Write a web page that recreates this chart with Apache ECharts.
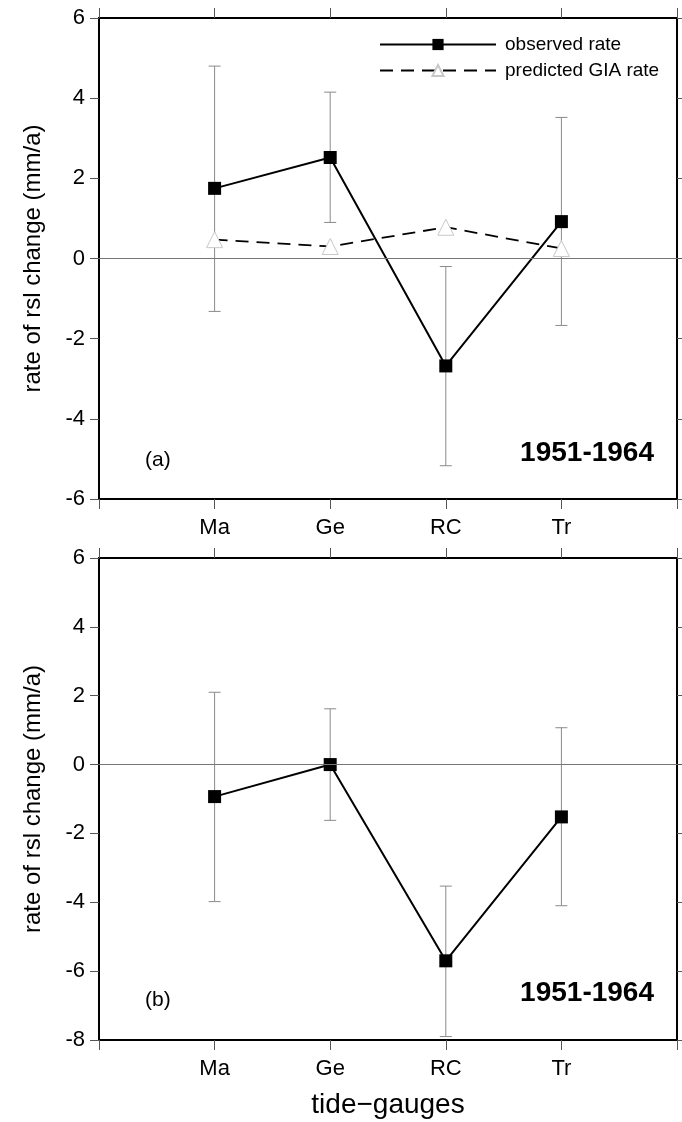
<!DOCTYPE html>
<html>
<head>
<meta charset="utf-8">
<script src="https://cdn.jsdelivr.net/npm/echarts@6/dist/echarts.min.js"></script>
<style>
  html, body { margin: 0; padding: 0; background: #fff; }
  #chart { width: 682px; height: 1122px; }
</style>
</head>
<body>
<div id="chart"></div>
<script>
// tide gauges, placed at x = 1..4 on a 0..5 axis
const categories = ['Ma', 'Ge', 'RC', 'Tr'];
const catPos = [1, 2, 3, 4];

// panel (a)
const obsA = [1.75, 2.52, -2.68, 0.92];
const obsALow = [-1.32, 0.9, -5.17, -1.67];
const obsAHigh = [4.8, 4.15, -0.2, 3.52];
const giaA = [0.47, 0.3, 0.78, 0.25];

// panel (b)
const obsB = [-0.93, 0.0, -5.7, -1.52];
const obsBLow = [-3.98, -1.62, -7.9, -4.1];
const obsBHigh = [2.1, 1.62, -3.53, 1.07];

const yTicksA = { min: -6, max: 6, interval: 2 };
const yTicksB = { min: -8, max: 6, interval: 2 };

const FONT = 'Liberation Sans, Arial, Helvetica, sans-serif';

const chart = echarts.init(document.getElementById('chart'));

function pairs(ys) { return catPos.map((x, i) => [x, ys[i]]); }
function errData(lo, hi) { return catPos.map((x, i) => [x, lo[i], hi[i]]); }

function errorBars(api) {
  const x = api.value(0);
  const lo = api.coord([x, api.value(1)]);
  const hi = api.coord([x, api.value(2)]);
  const w = 6;
  const style = { stroke: '#8a8a8a', lineWidth: 1, fill: null };
  return {
    type: 'group',
    children: [
      { type: 'line', shape: { x1: lo[0], y1: lo[1], x2: hi[0], y2: hi[1] }, style },
      { type: 'line', shape: { x1: lo[0] - w, y1: lo[1], x2: lo[0] + w, y2: lo[1] }, style },
      { type: 'line', shape: { x1: hi[0] - w, y1: hi[1], x2: hi[0] + w, y2: hi[1] }, style }
    ]
  };
}

function xAxisPair(gridIndex, withName) {
  const base = {
    gridIndex, type: 'value', min: 0, max: 5, interval: 1,
    splitLine: { show: false },
    axisLine: { onZero: false, lineStyle: { color: '#000', width: 2 } },
    axisTick: { length: 10, lineStyle: { color: '#555', width: 1 } }
  };
  return [
    Object.assign({}, base, {
      position: 'bottom',
      axisLabel: {
        fontFamily: FONT, fontSize: 22, color: '#000', margin: 18,
        formatter: v => { const i = catPos.indexOf(v); return i >= 0 ? categories[i] : ''; }
      },
      name: withName ? 'tide\u2212gauges' : '',
      nameLocation: 'middle', nameGap: 51,
      nameTextStyle: { fontFamily: FONT, fontSize: 28, color: '#000' }
    }),
    Object.assign({}, base, { position: 'top', axisLabel: { show: false } })
  ];
}

function yAxisPair(gridIndex, t) {
  const base = {
    gridIndex, type: 'value', min: t.min, max: t.max, interval: t.interval,
    splitLine: { show: false },
    axisLine: { show: true, onZero: false, lineStyle: { color: '#000', width: 2 } },
    axisTick: { show: true, length: 9, lineStyle: { color: '#555', width: 1 } }
  };
  return [
    Object.assign({}, base, {
      position: 'left',
      axisLabel: { fontFamily: FONT, fontSize: 22, color: '#000', margin: 14 },
      name: 'rate of rsl change (mm/a)',
      nameLocation: 'middle', nameGap: 54, nameRotate: 90,
      nameTextStyle: { fontFamily: FONT, fontSize: 24, color: '#000' }
    }),
    Object.assign({}, base, { position: 'right', axisLabel: { show: false } })
  ];
}

const zeroLine = {
  silent: true, symbol: 'none', label: { show: false },
  lineStyle: { color: '#777', width: 1, type: 'solid' },
  data: [{ yAxis: 0 }]
};

const option = {
  animation: false,
  backgroundColor: '#fff',
  grid: [
    { left: 99, top: 18, width: 578, height: 481, show: true, borderColor: '#000', borderWidth: 2 },
    { left: 99, top: 558, width: 578, height: 482, show: true, borderColor: '#000', borderWidth: 2 }
  ],
  xAxis: [...xAxisPair(0, false), ...xAxisPair(1, true)],
  yAxis: [...yAxisPair(0, yTicksA), ...yAxisPair(1, yTicksB)],
  legend: {
    left: 374, top: 30, orient: 'vertical',
    itemWidth: 116, itemHeight: 14, itemGap: 7,
    textStyle: { fontFamily: FONT, fontSize: 19, color: '#000', padding: [0, 0, 0, 4] },
    data: ['observed rate', 'predicted GIA rate']
  },
  series: [
    {
      type: 'custom', xAxisIndex: 0, yAxisIndex: 0, renderItem: (p, api) => errorBars(api),
      data: errData(obsALow, obsAHigh), z: 1, silent: true, markLine: zeroLine
    },
    {
      name: 'predicted GIA rate', type: 'line', xAxisIndex: 0, yAxisIndex: 0,
      data: pairs(giaA), symbol: 'triangle', symbolSize: 16,
      lineStyle: { color: '#000', width: 1.8, type: [13, 8] },
      itemStyle: { color: '#fff', borderColor: '#c8c8c8', borderWidth: 1 }, z: 2
    },
    {
      name: 'observed rate', type: 'line', xAxisIndex: 0, yAxisIndex: 0,
      data: pairs(obsA), symbol: 'rect', symbolSize: 13,
      lineStyle: { color: '#000', width: 2 },
      itemStyle: { color: '#000' }, z: 3
    },
    {
      type: 'custom', xAxisIndex: 2, yAxisIndex: 2, renderItem: (p, api) => errorBars(api),
      data: errData(obsBLow, obsBHigh), z: 1, silent: true, markLine: zeroLine
    },
    {
      name: 'observed rate b', type: 'line', xAxisIndex: 2, yAxisIndex: 2,
      data: pairs(obsB), symbol: 'rect', symbolSize: 13,
      lineStyle: { color: '#000', width: 2 },
      itemStyle: { color: '#000' }, z: 3
    }
  ],
  graphic: [
    { type: 'text', left: 145, top: 450, style: { text: '(a)', font: '21px ' + FONT, fill: '#000' } },
    { type: 'text', right: 28, top: 439, style: { text: '1951-1964', font: 'bold 28px ' + FONT, fill: '#000' } },
    { type: 'text', left: 145, top: 990, style: { text: '(b)', font: '21px ' + FONT, fill: '#000' } },
    { type: 'text', right: 28, top: 979, style: { text: '1951-1964', font: 'bold 28px ' + FONT, fill: '#000' } }
  ]
};

chart.setOption(option);
</script>
</body>
</html>
